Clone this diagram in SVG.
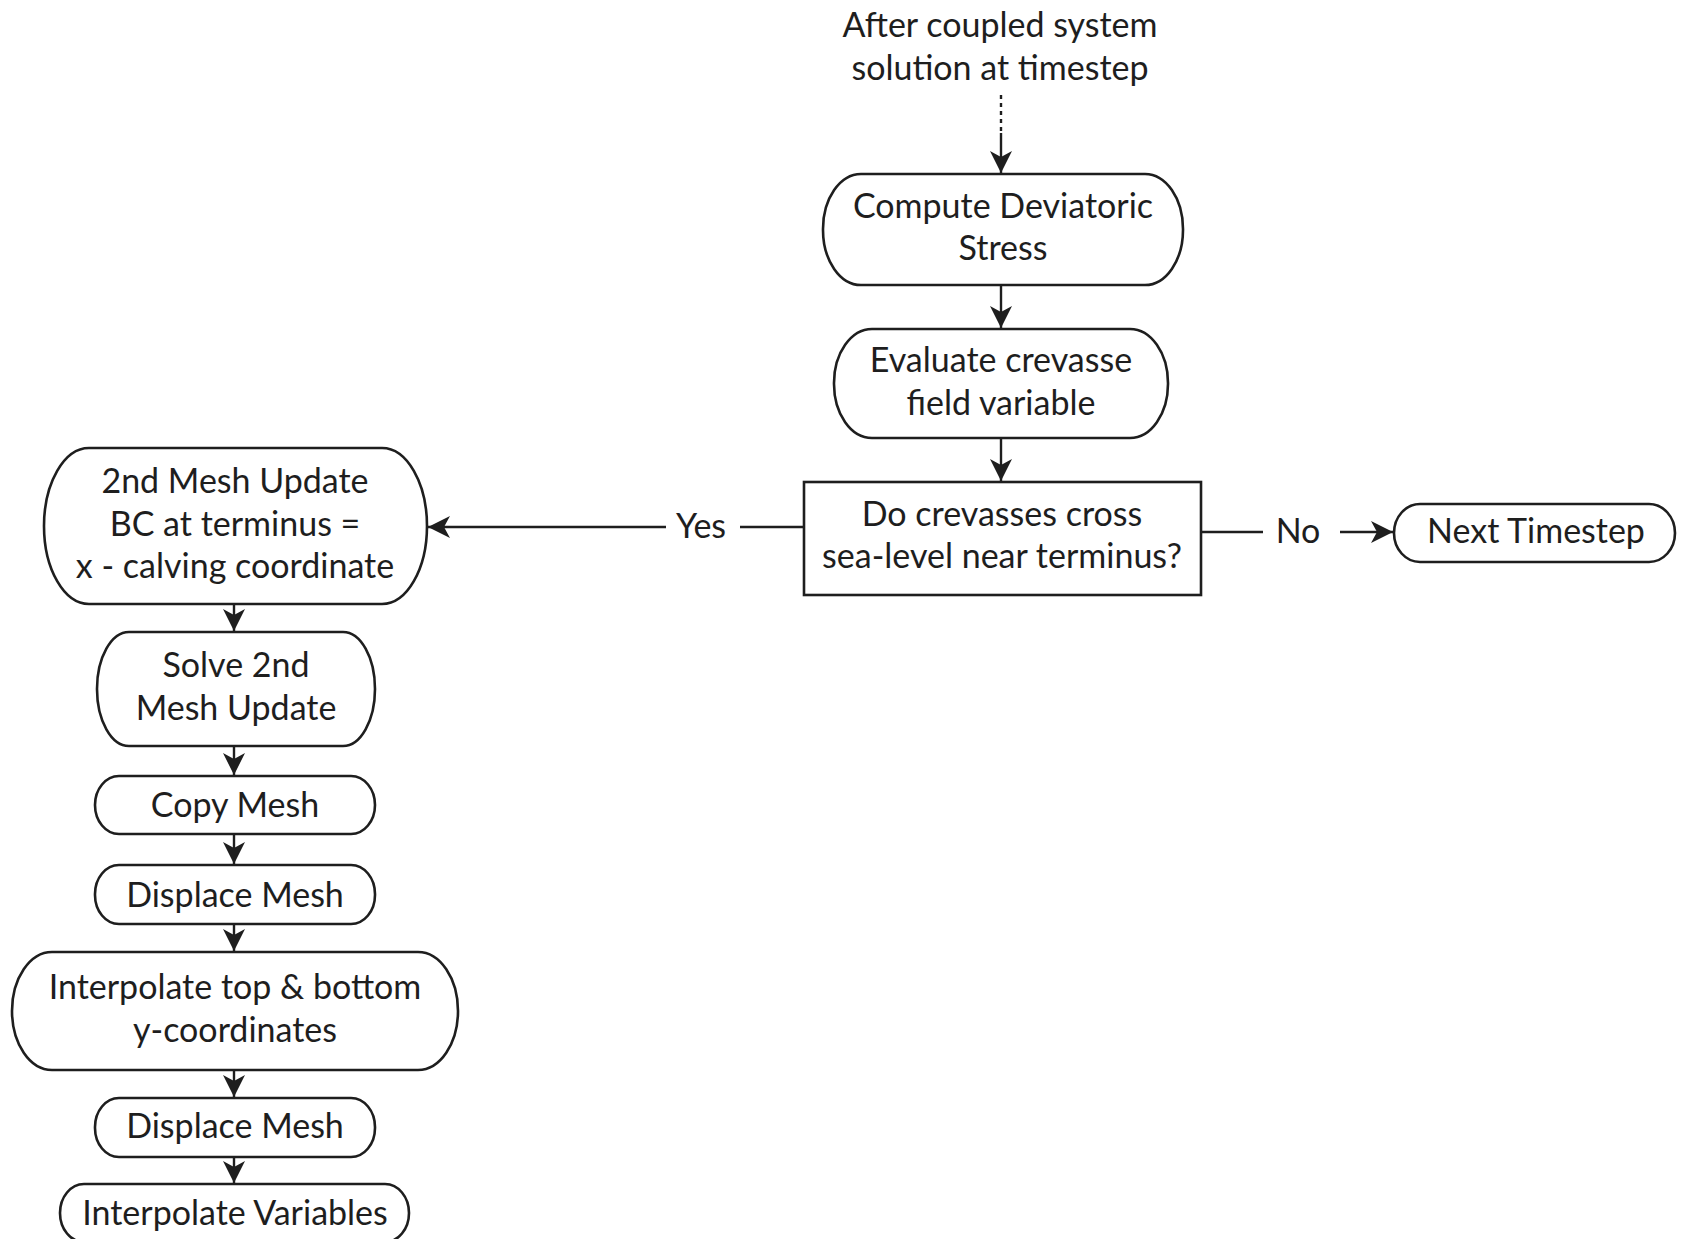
<svg xmlns="http://www.w3.org/2000/svg" width="1684" height="1239" viewBox="0 0 1684 1239">
<style>
.n{fill:#fff;stroke:#1e1e1e;stroke-width:2.6}
.t{font-family:Lato,"Noto Sans",sans-serif;font-size:34px;fill:#1e1e1e;text-anchor:middle}
.c{stroke:#1e1e1e;stroke-width:2.4;fill:none}
</style>
<defs>
<marker id="ah" viewBox="0 0 22 22" refX="22" refY="11" markerWidth="22" markerHeight="22" markerUnits="userSpaceOnUse" orient="auto">
<path d="M0,0 L22,11 L0,22 L6,11 Z" fill="#1e1e1e"/>
</marker>
</defs>
<rect width="1684" height="1239" fill="#fff"/>
<g id="start-label">
<text class="t" x="1000" y="37">After coupled system</text>
<text class="t" x="1000" y="80">solution at timestep</text>
</g>
<g id="compute-stress">
<rect class="n" x="823" y="174" width="360" height="111" rx="38" ry="55"/>
<text class="t" x="1003" y="218">Compute Deviatoric</text>
<text class="t" x="1003" y="260">Stress</text>
</g>
<g id="evaluate-crevasse">
<rect class="n" x="834" y="329" width="334" height="109" rx="38" ry="54"/>
<text class="t" x="1001" y="372">Evaluate crevasse</text>
<text class="t" x="1001" y="415">field variable</text>
</g>
<g id="decision">
<rect class="n" x="804" y="482" width="397" height="113"/>
<text class="t" x="1002" y="526">Do crevasses cross</text>
<text class="t" x="1002" y="568">sea-level near terminus?</text>
</g>
<g id="next-timestep">
<rect class="n" x="1394" y="504" width="281" height="58" rx="26" ry="29"/>
<text class="t" x="1536" y="543">Next Timestep</text>
</g>
<g id="mesh-update-bc">
<rect class="n" x="44" y="448" width="383" height="156" rx="45" ry="78"/>
<text class="t" x="235" y="493">2nd Mesh Update</text>
<text class="t" x="235" y="536">BC at terminus =</text>
<text class="t" x="235" y="578">x - calving coordinate</text>
</g>
<g id="solve-mesh-update">
<rect class="n" x="97" y="632" width="278" height="114" rx="32" ry="57"/>
<text class="t" x="236" y="677">Solve 2nd</text>
<text class="t" x="236" y="720">Mesh Update</text>
</g>
<g id="copy-mesh">
<rect class="n" x="95" y="776" width="280" height="58" rx="24" ry="29"/>
<text class="t" x="235" y="817">Copy Mesh</text>
</g>
<g id="displace-mesh-1">
<rect class="n" x="95" y="865" width="280" height="59" rx="24" ry="29"/>
<text class="t" x="235" y="907">Displace Mesh</text>
</g>
<g id="interpolate-coords">
<rect class="n" x="12" y="952" width="446" height="118" rx="40" ry="59"/>
<text class="t" x="235" y="999">Interpolate top &amp; bottom</text>
<text class="t" x="235" y="1042">y-coordinates</text>
</g>
<g id="displace-mesh-2">
<rect class="n" x="95" y="1098" width="280" height="59" rx="24" ry="29"/>
<text class="t" x="235" y="1138">Displace Mesh</text>
</g>
<g id="interpolate-variables">
<rect class="n" x="60" y="1184" width="349" height="58" rx="24" ry="29"/>
<text class="t" x="235" y="1225">Interpolate Variables</text>
</g>
<g id="connectors">
<line class="c" x1="1001" y1="95" x2="1001" y2="133" stroke-dasharray="4,4"/>
<line class="c" x1="1001" y1="133" x2="1001" y2="173" marker-end="url(#ah)"/>
<line class="c" x1="1001" y1="285" x2="1001" y2="328" marker-end="url(#ah)"/>
<line class="c" x1="1001" y1="438" x2="1001" y2="481" marker-end="url(#ah)"/>
<line class="c" x1="803" y1="527" x2="740" y2="527"/>
<line class="c" x1="666" y1="527" x2="428" y2="527" marker-end="url(#ah)"/>
<text class="t" x="701" y="538">Yes</text>
<line class="c" x1="1201" y1="532" x2="1263" y2="532"/>
<text class="t" x="1298" y="543">No</text>
<line class="c" x1="1340" y1="532" x2="1393" y2="532" marker-end="url(#ah)"/>
<line class="c" x1="234" y1="604" x2="234" y2="631" marker-end="url(#ah)"/>
<line class="c" x1="234" y1="746" x2="234" y2="775" marker-end="url(#ah)"/>
<line class="c" x1="234" y1="834" x2="234" y2="864" marker-end="url(#ah)"/>
<line class="c" x1="234" y1="924" x2="234" y2="951" marker-end="url(#ah)"/>
<line class="c" x1="234" y1="1070" x2="234" y2="1097" marker-end="url(#ah)"/>
<line class="c" x1="234" y1="1157" x2="234" y2="1183" marker-end="url(#ah)"/>
</g>
</svg>
